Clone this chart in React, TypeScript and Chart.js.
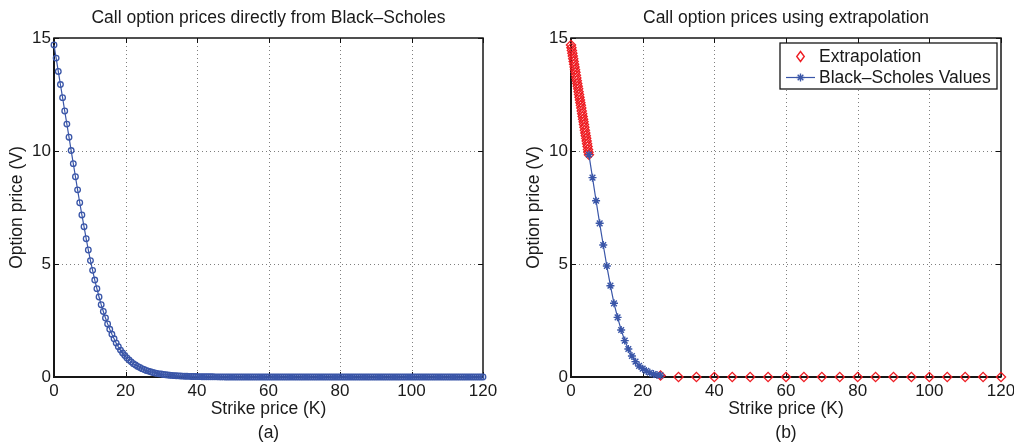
import { useEffect, useRef } from "react";
import { Chart, registerables } from "chart.js";

Chart.register(...registerables);

const FONT = "'Liberation Sans', Arial, Helvetica, sans-serif";
const BLUE = "#3a56a8";
const RED = "#ee1d23";
const TEXT = "#1a1a1a";

// ---------- Panel (a): Black–Scholes prices on a fine strike grid ----------
const strikeA = [
  0, 0.6, 1.2, 1.8, 2.4, 3, 3.6, 4.2, 4.8, 5.4,
  6, 6.6, 7.2, 7.8, 8.4, 9, 9.6, 10.2, 10.8, 11.4,
  12, 12.6, 13.2, 13.8, 14.4, 15, 15.6, 16.2, 16.8, 17.4,
  18, 18.6, 19.2, 19.8, 20.4, 21, 21.6, 22.2, 22.8, 23.4,
  24, 24.6, 25.2, 25.8, 26.4, 27, 27.6, 28.2, 28.8, 29.4,
  30, 30.6, 31.2, 31.8, 32.4, 33, 33.6, 34.2, 34.8, 35.4,
  36, 36.6, 37.2, 37.8, 38.4, 39, 39.6, 40.2, 40.8, 41.4,
  42, 42.6, 43.2, 43.8, 44.4, 45, 45.6, 46.2, 46.8, 47.4,
  48, 48.6, 49.2, 49.8, 50.4, 51, 51.6, 52.2, 52.8, 53.4,
  54, 54.6, 55.2, 55.8, 56.4, 57, 57.6, 58.2, 58.8, 59.4,
  60, 60.6, 61.2, 61.8, 62.4, 63, 63.6, 64.2, 64.8, 65.4,
  66, 66.6, 67.2, 67.8, 68.4, 69, 69.6, 70.2, 70.8, 71.4,
  72, 72.6, 73.2, 73.8, 74.4, 75, 75.6, 76.2, 76.8, 77.4,
  78, 78.6, 79.2, 79.8, 80.4, 81, 81.6, 82.2, 82.8, 83.4,
  84, 84.6, 85.2, 85.8, 86.4, 87, 87.6, 88.2, 88.8, 89.4,
  90, 90.6, 91.2, 91.8, 92.4, 93, 93.6, 94.2, 94.8, 95.4,
  96, 96.6, 97.2, 97.8, 98.4, 99, 99.6, 100.2, 100.8, 101.4,
  102, 102.6, 103.2, 103.8, 104.4, 105, 105.6, 106.2, 106.8, 107.4,
  108, 108.6, 109.2, 109.8, 110.4, 111, 111.6, 112.2, 112.8, 113.4,
  114, 114.6, 115.2, 115.8, 116.4, 117, 117.6, 118.2, 118.8, 119.4,
  120,
];

const priceA = [
  14.69, 14.11, 13.52, 12.94, 12.36, 11.77, 11.19, 10.61, 10.02, 9.44,
  8.86, 8.28, 7.71, 7.17, 6.65, 6.12, 5.62, 5.15, 4.72, 4.29,
  3.91, 3.54, 3.2, 2.9, 2.61, 2.35, 2.11, 1.89, 1.69, 1.5,
  1.34, 1.19, 1.06, 0.95, 0.84, 0.75, 0.67, 0.59, 0.53, 0.47,
  0.42, 0.37, 0.33, 0.29, 0.26, 0.23, 0.2, 0.18, 0.16, 0.14,
  0.13, 0.11, 0.1, 0.09, 0.08, 0.07, 0.06, 0.055, 0.05, 0.045,
  0.04, 0.035, 0.03, 0.028, 0.025, 0.022, 0.02, 0.018, 0.016, 0.014,
  0.012, 0.011, 0.01, 0.009, 0.008, 0.007, 0.006, 0.005, 0.004, 0.004,
  0.003, 0, 0, 0, 0, 0, 0, 0, 0, 0,
  0, 0, 0, 0, 0, 0, 0, 0, 0, 0,
  0, 0, 0, 0, 0, 0, 0, 0, 0, 0,
  0, 0, 0, 0, 0, 0, 0, 0, 0, 0,
  0, 0, 0, 0, 0, 0, 0, 0, 0, 0,
  0, 0, 0, 0, 0, 0, 0, 0, 0, 0,
  0, 0, 0, 0, 0, 0, 0, 0, 0, 0,
  0, 0, 0, 0, 0, 0, 0, 0, 0, 0,
  0, 0, 0, 0, 0, 0, 0, 0, 0, 0,
  0, 0, 0, 0, 0, 0, 0, 0, 0, 0,
  0, 0, 0, 0, 0, 0, 0, 0, 0, 0,
  0, 0, 0, 0, 0, 0, 0, 0, 0, 0,
  0,
];

// ---------- Panel (b): extrapolated values and Black–Scholes values ----------
const strikeExtrap = [
  0, 0.125, 0.25, 0.375, 0.5, 0.625, 0.75, 0.875, 1, 1.125,
  1.25, 1.375, 1.5, 1.625, 1.75, 1.875, 2, 2.125, 2.25, 2.375,
  2.5, 2.625, 2.75, 2.875, 3, 3.125, 3.25, 3.375, 3.5, 3.625,
  3.75, 3.875, 4, 4.125, 4.25, 4.375, 4.5, 4.625, 4.75, 4.875,
  5,
  25, 30, 35, 40, 45, 50, 55, 60, 65, 70, 75, 80, 85, 90, 95, 100,
  105, 110, 115, 120,
];
const priceExtrap = [
  14.69, 14.57, 14.45, 14.33, 14.2, 14.08, 13.96, 13.84, 13.72, 13.6,
  13.48, 13.35, 13.23, 13.11, 12.99, 12.87, 12.75, 12.62, 12.5, 12.38,
  12.26, 12.14, 12.02, 11.9, 11.77, 11.65, 11.53, 11.41, 11.29, 11.17,
  11.05, 10.92, 10.8, 10.68, 10.56, 10.44, 10.32, 10.2, 10.07, 9.95,
  9.83,
  0.07, 0, 0, 0, 0, 0, 0, 0, 0, 0, 0, 0, 0, 0, 0, 0,
  0, 0, 0, 0,
];

const strikeBS = [5, 6, 7, 8, 9, 10, 11, 12, 13, 14, 15, 16, 17, 18, 19, 20, 21, 22, 23, 24, 25];
const priceBS = [
  9.84, 8.82, 7.8, 6.8, 5.84, 4.91, 4.04, 3.26, 2.64, 2.08,
  1.61, 1.24, 0.93, 0.68, 0.49, 0.37, 0.27, 0.19, 0.13, 0.09, 0.07,
];

const xTicks = [0, 20, 40, 60, 80, 100, 120];
const yTicks = [0, 5, 10, 15];

const titleA = "Call option prices directly from Black–Scholes";
const titleB = "Call option prices using extrapolation";
const xTitle = "Strike price (K)";
const yTitle = "Option price (V)";
const labelExtrap = "Extrapolation";
const labelBS = "Black–Scholes Values";

function toPoints(xs: number[], ys: number[]) {
  return xs.map((x, i) => ({ x, y: ys[i] }));
}

const framePlugin = {
  id: "matlabFrame",
  beforeDatasetsDraw(chart: any) {
    const { ctx, chartArea: a, scales } = chart;
    const xs = scales.x;
    const ys = scales.y;
    ctx.save();
    // dotted grid
    ctx.strokeStyle = "rgba(0,0,0,0.5)";
    ctx.lineWidth = 1;
    ctx.setLineDash([1, 3]);
    ctx.beginPath();
    xTicks.forEach((v) => {
      if (v > xs.min && v < xs.max) {
        const px = Math.round(xs.getPixelForValue(v)) + 0.5;
        ctx.moveTo(px, a.top);
        ctx.lineTo(px, a.bottom);
      }
    });
    yTicks.forEach((v) => {
      if (v > ys.min && v < ys.max) {
        const py = Math.round(ys.getPixelForValue(v)) + 0.5;
        ctx.moveTo(a.left, py);
        ctx.lineTo(a.right, py);
      }
    });
    ctx.stroke();
    ctx.setLineDash([]);
    // inward tick marks
    ctx.strokeStyle = "#111";
    ctx.lineWidth = 1;
    const len = 5;
    ctx.beginPath();
    xTicks.forEach((v) => {
      const px = Math.round(xs.getPixelForValue(v)) + 0.5;
      ctx.moveTo(px, a.bottom);
      ctx.lineTo(px, a.bottom - len);
      ctx.moveTo(px, a.top);
      ctx.lineTo(px, a.top + len);
    });
    yTicks.forEach((v) => {
      const py = Math.round(ys.getPixelForValue(v)) + 0.5;
      ctx.moveTo(a.left, py);
      ctx.lineTo(a.left + len, py);
      ctx.moveTo(a.right, py);
      ctx.lineTo(a.right - len, py);
    });
    ctx.stroke();
    // axes box
    ctx.strokeStyle = "#161616";
    ctx.lineWidth = 1.5;
    ctx.strokeRect(a.left, a.top, a.right - a.left, a.bottom - a.top);
    ctx.lineWidth = 2;
    ctx.beginPath();
    ctx.moveTo(a.left, a.top);
    ctx.lineTo(a.left, a.bottom);
    ctx.lineTo(a.right, a.bottom);
    ctx.stroke();
    ctx.restore();
  },
};

function drawDiamond(ctx: CanvasRenderingContext2D, x: number, y: number, r: number) {
  ctx.beginPath();
  ctx.moveTo(x, y - r);
  ctx.lineTo(x + r * 0.75, y);
  ctx.lineTo(x, y + r);
  ctx.lineTo(x - r * 0.75, y);
  ctx.closePath();
  ctx.stroke();
}

function drawStar(ctx: CanvasRenderingContext2D, x: number, y: number, r: number) {
  ctx.beginPath();
  for (let k = 0; k < 4; k++) {
    const ang = (k * Math.PI) / 4;
    ctx.moveTo(x - Math.cos(ang) * r, y - Math.sin(ang) * r);
    ctx.lineTo(x + Math.cos(ang) * r, y + Math.sin(ang) * r);
  }
  ctx.stroke();
}

const legendPlugin = {
  id: "boxLegend",
  afterDatasetsDraw(chart: any) {
    const { ctx, chartArea: a } = chart;
    const w = 217;
    const h = 46;
    const left = a.right - 4 - w;
    const top = a.top + 5;
    ctx.save();
    ctx.fillStyle = "#fff";
    ctx.fillRect(left, top, w, h);
    ctx.strokeStyle = "#161616";
    ctx.lineWidth = 1.3;
    ctx.strokeRect(left, top, w, h);
    const dsExtrap = chart.data.datasets[1];
    const dsBS = chart.data.datasets[0];
    const rows = [dsExtrap, dsBS];
    ctx.font = `17.5px ${FONT}`;
    ctx.textBaseline = "middle";
    ctx.textAlign = "left";
    rows.forEach((ds: any, i: number) => {
      const cy = top + 13.5 + i * 21;
      const mx = left + 20.5;
      ctx.strokeStyle = ds.borderColor;
      ctx.lineWidth = 1.2;
      if (ds.showLine !== false) {
        ctx.beginPath();
        ctx.moveTo(left + 6, cy);
        ctx.lineTo(left + 35, cy);
        ctx.stroke();
      }
      ctx.lineWidth = 1.4;
      if (ds.pointStyle === "rectRot") drawDiamond(ctx, mx, cy, 5);
      else drawStar(ctx, mx, cy, 4);
      ctx.fillStyle = TEXT;
      ctx.fillText(ds.label, left + 39, cy + 1);
    });
    ctx.restore();
  },
};

function makeOptions(title: string, sub: string, yAxisWidth: number, yTitlePad: number, rightPad: number) {
  return {
    responsive: false,
    animation: false as const,
    events: [] as any[],
    layout: { padding: { left: 0, right: rightPad, top: 0, bottom: 0 } },
    plugins: {
      legend: { display: false },
      tooltip: { enabled: false },
      title: {
        display: true,
        text: title,
        fullSize: false,
        color: TEXT,
        font: { family: FONT, size: 17.5, weight: "normal" as const },
        padding: { top: 8, bottom: 9 },
      },
      subtitle: {
        display: true,
        text: sub,
        position: "bottom" as const,
        fullSize: false,
        color: TEXT,
        font: { family: FONT, size: 17.5, weight: "normal" as const },
        padding: { top: 2, bottom: 0 },
      },
    },
    scales: {
      x: {
        type: "linear" as const,
        min: 0,
        max: 120,
        grid: { display: false, drawTicks: false },
        border: { display: false },
        ticks: {
          stepSize: 20,
          padding: 4,
          color: TEXT,
          maxRotation: 0,
          font: { family: FONT, size: 17 },
        },
        title: {
          display: true,
          text: xTitle,
          color: TEXT,
          font: { family: FONT, size: 17.5 },
          padding: { top: 0, bottom: 1.5 },
        },
        afterFit(scale: any) {
          scale.height = 44;
        },
      },
      y: {
        type: "linear" as const,
        min: 0,
        max: 15,
        grid: { display: false, drawTicks: false },
        border: { display: false },
        ticks: {
          stepSize: 5,
          padding: 3,
          color: TEXT,
          font: { family: FONT, size: 17 },
        },
        title: {
          display: true,
          text: yTitle,
          color: TEXT,
          font: { family: FONT, size: 17.5 },
          padding: { top: yTitlePad, bottom: 0 },
        },
        afterFit(scale: any) {
          scale.width = yAxisWidth;
        },
      },
    },
  };
}

export default function App() {
  const refA = useRef<HTMLCanvasElement>(null);
  const refB = useRef<HTMLCanvasElement>(null);

  useEffect(() => {
    const chartA = new Chart(refA.current as HTMLCanvasElement, {
      type: "line",
      data: {
        datasets: [
          {
            label: "Black–Scholes",
            data: toPoints(strikeA, priceA),
            borderColor: BLUE,
            borderWidth: 1.2,
            backgroundColor: "transparent",
            pointStyle: "circle",
            pointRadius: 2.8,
            pointBorderWidth: 1.3,
            pointBackgroundColor: "transparent",
            pointBorderColor: BLUE,
            tension: 0,
            clip: false as any,
          },
        ],
      },
      options: makeOptions(titleA, "(a)", 54, 6.5, 24) as any,
      plugins: [framePlugin],
    });

    const chartB = new Chart(refB.current as HTMLCanvasElement, {
      type: "line",
      data: {
        datasets: [
          {
            label: labelBS,
            data: toPoints(strikeBS, priceBS),
            borderColor: BLUE,
            borderWidth: 1.2,
            backgroundColor: "transparent",
            pointStyle: "star",
            pointRadius: 4,
            pointBorderWidth: 1.4,
            pointBorderColor: BLUE,
            tension: 0,
            clip: false as any,
          },
          {
            label: labelExtrap,
            data: toPoints(strikeExtrap, priceExtrap),
            borderColor: RED,
            borderWidth: 1,
            showLine: false,
            backgroundColor: "transparent",
            pointStyle: "rectRot",
            pointRadius: 4.6,
            pointBorderWidth: 1.3,
            pointBorderColor: RED,
            pointBackgroundColor: "transparent",
            clip: false as any,
          },
        ],
      },
      options: makeOptions(titleB, "(b)", 64, 17, 26) as any,
      plugins: [framePlugin, legendPlugin],
    });

    return () => {
      chartA.destroy();
      chartB.destroy();
    };
  }, []);

  return (
    <div
      style={{
        position: "fixed",
        left: 0,
        top: 0,
        width: 1014,
        height: 444,
        overflow: "hidden",
        background: "#fff",
      }}
    >
      <div style={{ position: "absolute", left: 0, top: 0, width: 507, height: 444 }}>
        <canvas ref={refA} width={507} height={444} style={{ display: "block" }} />
      </div>
      <div style={{ position: "absolute", left: 507, top: 0, width: 520, height: 444 }}>
        <canvas ref={refB} width={520} height={444} style={{ display: "block" }} />
      </div>
    </div>
  );
}
